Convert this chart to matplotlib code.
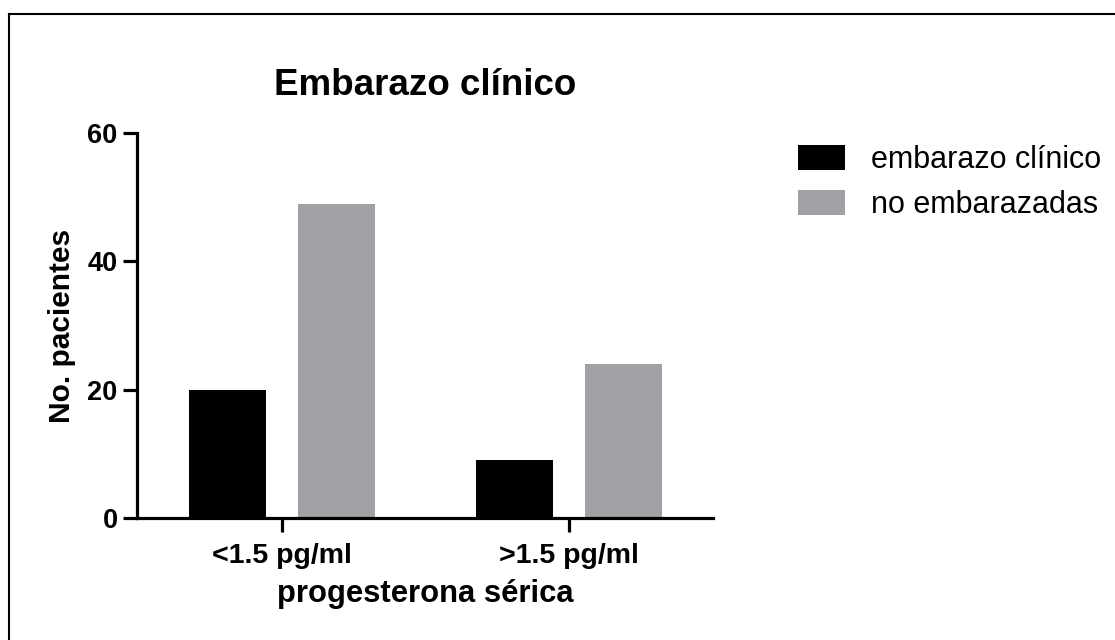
import matplotlib
matplotlib.use("Agg")
import matplotlib.pyplot as plt
from matplotlib.lines import Line2D
import numpy as np

plt.rcParams['font.family'] = ['Liberation Sans', 'DejaVu Sans']

groups = ["<1.5 pg/ml", ">1.5 pg/ml"]
series_names = ["embarazo clínico", "no embarazadas"]
embarazo = [20, 9]
no_embarazadas = [49, 24]
colors = ["#000000", "#a1a1a5"]

fig = plt.figure(figsize=(11.15, 6.4), dpi=100)
ax = fig.add_axes([0.1229, 0.1906, 0.5166, 0.6016])

x = np.arange(len(groups))
w = 0.268
off = 0.19
ax.bar(x - off, embarazo, w, color=colors[0], label=series_names[0])
ax.bar(x + off, no_embarazadas, w, color=colors[1], label=series_names[1])

ax.set_xlim(-0.505, 1.502)
ax.set_ylim(0, 60)
ax.set_yticks([0, 20, 40, 60])
ax.set_xticks(x)
ax.set_xticklabels(groups)

for s in ["top", "right"]:
    ax.spines[s].set_visible(False)
for s in ["left", "bottom"]:
    ax.spines[s].set_linewidth(2.3)
ax.tick_params(axis="both", length=10, width=2.3, labelsize=19.5, pad=4)
ax.tick_params(axis="x", labelsize=20.5, pad=8)
for lab in ax.get_xticklabels() + ax.get_yticklabels():
    lab.set_fontweight("bold")

ax.set_title("Embarazo clínico", fontsize=26.5, fontweight="bold", pad=27)
ax.set_xlabel("progesterona sérica", fontsize=22.3, fontweight="bold", labelpad=7)
ax.set_ylabel("No. pacientes", fontsize=21.5, fontweight="bold", labelpad=8)

fig.legend(loc="upper left", bbox_to_anchor=(798 / 1115, 1 - 145 / 640),
           frameon=False, fontsize=22, handlelength=1.55, handleheight=0.9,
           handletextpad=0.85, labelspacing=0.48, borderpad=0, borderaxespad=0)

# outer frame (top and left edges)
fig.add_artist(Line2D([9 / 1115, 9 / 1115], [0, 1 - 14 / 640], color="black", lw=1.5))
fig.add_artist(Line2D([9 / 1115, 1], [1 - 14 / 640, 1 - 14 / 640], color="black", lw=1.5))

fig.savefig("out.png", dpi=100)
